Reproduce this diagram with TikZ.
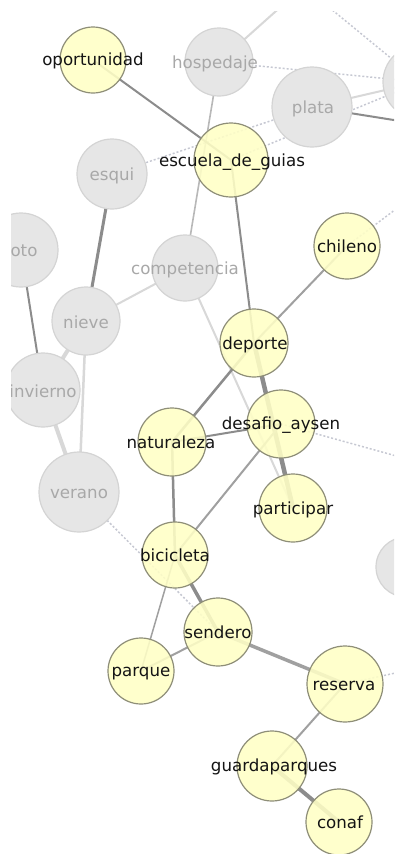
\documentclass[tikz,border=0pt]{standalone}
\usepackage{fontspec}
\setmainfont{DejaVu Sans}
\usetikzlibrary{backgrounds}
\definecolor{yfill}{HTML}{FFFFC6}
\definecolor{ybord}{HTML}{8E8E78}
\definecolor{gfill}{HTML}{E6E6E6}
\definecolor{gbord}{HTML}{D4D4D4}
\definecolor{gtext}{HTML}{A8A8A8}
\definecolor{edark}{HTML}{8C8C8C}
\definecolor{emid}{HTML}{A0A0A0}
\definecolor{elight}{HTML}{D8D8D8}
\definecolor{edot}{HTML}{C6C8D2}
\begin{document}
\begin{tikzpicture}[x=0.75pt,y=-0.75pt,
  yn/.style={circle,draw=ybord,fill=yfill,fill opacity=0.88,draw opacity=1,line width=0.9pt,inner sep=0pt,minimum size=#1*1.5pt},
  gn/.style={circle,draw=gbord,fill=gfill,line width=0.9pt,inner sep=0pt,minimum size=#1*1.5pt},
  yt/.style={anchor=base,inner sep=0pt,text=black!92,font=\fontsize{12.5pt}{14pt}\selectfont},
  gt/.style={anchor=base,inner sep=0pt,text=gtext,font=\fontsize{12.5pt}{14pt}\selectfont},
  dk/.style={draw=edark,line width=#1*0.75pt},
  md/.style={draw=emid,line width=#1*0.75pt},
  lt/.style={draw=elight,line width=#1*0.75pt},
  dt/.style={draw=edot,line width=1.1pt,dash pattern=on 1.5pt off 1.5pt}]
\useasboundingbox (0,0) rectangle (394,854);
\begin{scope}
\clip (11,11) rectangle (394,854);
% gray nodes
\node[gn=34] (hospedaje) at (219,62) {};
\node[gn=40] (plata) at (312,107) {};
\node[gn=37] (rnodeA) at (420,82) {};
\node[gn=35] (esqui) at (112,174) {};
\node[gn=37] (oto) at (21,250) {};
\node[gn=33] (competencia) at (185,268) {};
\node[gn=34] (nieve) at (86,321) {};
\node[gn=37] (invierno) at (43,390) {};
\node[gn=40] (verano) at (79,492) {};
\node[gn=30] (rnodeB) at (406,567) {};
% yellow nodes
\node[yn=33] (oportunidad) at (93,60) {};
\node[yn=37] (escuela) at (231,160) {};
\node[yn=33] (chileno) at (347,246) {};
\node[yn=34] (deporte) at (254,343) {};
\node[yn=34] (desafio) at (281,424) {};
\node[yn=34] (naturaleza) at (172,442) {};
\node[yn=34] (participar) at (293,508) {};
\node[yn=33] (bicicleta) at (175,555) {};
\node[yn=34] (sendero) at (218,632) {};
\node[yn=33] (parque) at (141,671) {};
\node[yn=38] (reserva) at (345,684) {};
\node[yn=35] (guardaparques) at (272,766) {};
\node[yn=33] (conaf) at (339,822) {};
% labels
\node[gt] (hospedaje-t) at (215,68) {hospedaje};
\node[gt] (plata-t) at (313,113) {plata};
\node[gt] (esqui-t) at (112,180) {esqui};
\node[gt] (oto-t) at (24,256) {oto};
\node[gt] (competencia-t) at (185,274) {competencia};
\node[gt] (nieve-t) at (86,328) {nieve};
\node[gt] (invierno-t) at (43,397) {invierno};
\node[gt] (verano-t) at (79,498) {verano};
\node[yt] (oportunidad-t) at (93,65) {oportunidad};
\node[yt] (escuela-t) at (232,166) {escuela\_de\_guias};
\node[yt] (chileno-t) at (347,252) {chileno};
\node[yt] (deporte-t) at (255,349) {deporte};
\node[yt] (desafio-t) at (281,429) {desafio\_aysen};
\node[yt] (naturaleza-t) at (171,448) {naturaleza};
\node[yt] (participar-t) at (293,514) {participar};
\node[yt] (bicicleta-t) at (175,561) {bicicleta};
\node[yt] (sendero-t) at (218,638) {sendero};
\node[yt] (parque-t) at (141,676) {parque};
\node[yt] (reserva-t) at (344,690) {reserva};
\node[yt] (guardaparques-t) at (274,771) {guardaparques};
\node[yt] (conaf-t) at (340,828) {conaf};
\end{scope}
\coordinate (offA) at (294,-5);
\coordinate (offB) at (314,-5);
\coordinate (offC) at (400,121);
\coordinate (offD) at (400,457);
\coordinate (offE) at (400,206);
\coordinate (offF) at (400,672);
\begin{pgfonlayer}{background}
\fill[white] (0,0) rectangle (394,854);
\clip (11,11) rectangle (394,854);
\draw[dt] (offB) -- (rnodeA.center);
\draw[dt] (hospedaje.center) -- (rnodeA.center);
\draw[dt] (esqui.center) -- (plata.center);
\draw[dt] (escuela.center) -- (rnodeA.center);
\draw[dt] (desafio.center) -- (offD);
\draw[dt] (chileno.center) -- (offE);
\draw[dt] (verano.center) -- (sendero.center);
\draw[dt] (reserva.center) -- (offF);
\draw[lt=2] (hospedaje.center) -- (offA);
\draw[lt=2] (plata.center) -- (rnodeA.center);
\draw[lt=2] (nieve.center) -- (competencia.center);
\draw[lt=4] (nieve.center) -- (invierno.center);
\draw[lt=2.5] (nieve.center) -- (verano.center);
\draw[lt=4] (invierno.center) -- (verano.center);
\draw[lt=2] (competencia.center) -- (participar.center);
\draw[draw=black!28,line width=1.2pt] (hospedaje.center) -- (competencia.center);
\draw[dk=2] (oportunidad.center) -- (escuela.center);
\draw[dk=2] (plata.center) -- (offC);
\draw[dk=3] (esqui.center) -- (nieve.center);
\draw[dk=2] (oto.center) -- (invierno.center);
\draw[dk=2] (escuela.center) -- (deporte.center);
\draw[md=2] (deporte.center) -- (chileno.center);
\draw[dk=2.5] (deporte.center) -- (naturaleza.center);
\draw[dk=4.5] (deporte.center) -- (participar.center);
\draw[dk=2] (desafio.center) -- (naturaleza.center);
\draw[md=2] (desafio.center) -- (bicicleta.center);
\draw[dk=2.5] (naturaleza.center) -- (bicicleta.center);
\draw[dk=3.5] (bicicleta.center) -- (sendero.center);
\draw[md=1.5] (bicicleta.center) -- (parque.center);
\draw[md=2] (sendero.center) -- (parque.center);
\draw[md=3.5] (sendero.center) -- (reserva.center);
\draw[md=2] (reserva.center) -- (guardaparques.center);
\draw[dk=4] (guardaparques.center) -- (conaf.center);
\end{pgfonlayer}
\end{tikzpicture}
\end{document}
